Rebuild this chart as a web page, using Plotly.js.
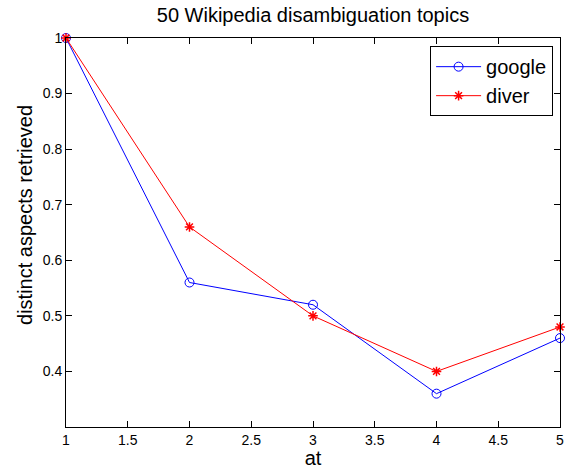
<!DOCTYPE html>
<html><head><meta charset="utf-8">
<script src="https://cdn.plot.ly/plotly-3.0.1.min.js"></script>
<style>body{margin:0;background:#fff}#c{width:570px;height:469px}</style>
</head><body><div id="c"></div>
<script>
const atValues = [1, 2, 3, 4, 5];
const googleValues = [1.0, 0.56, 0.52, 0.36, 0.46];
const diverValues = [1.0, 0.66, 0.50, 0.40, 0.48];
const xTicks = [1, 1.5, 2, 2.5, 3, 3.5, 4, 4.5, 5];
const yTicks = [0.4, 0.5, 0.6, 0.7, 0.8, 0.9, 1];

const font = 'Liberation Sans, Arial, Helvetica, sans-serif';
const traces = [
  {x: atValues, y: googleValues, name: 'google', type: 'scatter', mode: 'lines+markers',
   line: {color: '#0000ff', width: 1}, marker: {symbol: 'circle-open', size: 9, color: '#0000ff', line: {width: 1}}, cliponaxis: false},
  {x: atValues, y: diverValues, name: 'diver', type: 'scatter', mode: 'lines+markers',
   line: {color: '#ff0000', width: 1}, marker: {symbol: 'asterisk-open', size: 8, color: '#ff0000', line: {width: 1.5, color: '#ff0000'}}, cliponaxis: false}
];
const axisCommon = {showgrid: false, zeroline: false, showline: true, mirror: 'ticks', linecolor: '#000', linewidth: 1,
  ticks: 'inside', ticklen: 6, tickcolor: '#000', tickfont: {family: font, size: 14, color: '#000'}};
const layout = {
  width: 570, height: 469,
  margin: {l: 66, r: 10, t: 38, b: 42},
  paper_bgcolor: '#fff', plot_bgcolor: '#fff',
  title: {text: '50 Wikipedia disambiguation topics', font: {family: font, size: 20, color: '#000'},
    xref: 'paper', x: 0.5, xanchor: 'center', yref: 'container', y: 0.982, yanchor: 'top'},
  xaxis: Object.assign({}, axisCommon, {range: [1, 5], tickvals: xTicks, ticktext: xTicks.map(String),
    title: {text: 'at', font: {family: font, size: 20, color: '#000'}, standoff: 4}}),
  yaxis: Object.assign({}, axisCommon, {range: [0.3, 1], tickvals: yTicks, ticktext: yTicks.map(String)}),
  annotations: [{text: 'distinct aspects retrieved', textangle: -90, showarrow: false,
    xref: 'paper', yref: 'paper', x: -0.083, y: 0.545, xanchor: 'center', yanchor: 'middle',
    font: {family: font, size: 20, color: '#000'}}],
  legend: {x: 0.986, y: 0.979, xanchor: 'right', yanchor: 'top', bordercolor: '#000', borderwidth: 1, bgcolor: '#fff',
    font: {family: font, size: 20, color: '#000'}, tracegroupgap: 0, itemwidth: 45},
  showlegend: true
};
Plotly.newPlot('c', traces, layout, {displayModeBar: false});
</script></body></html>
